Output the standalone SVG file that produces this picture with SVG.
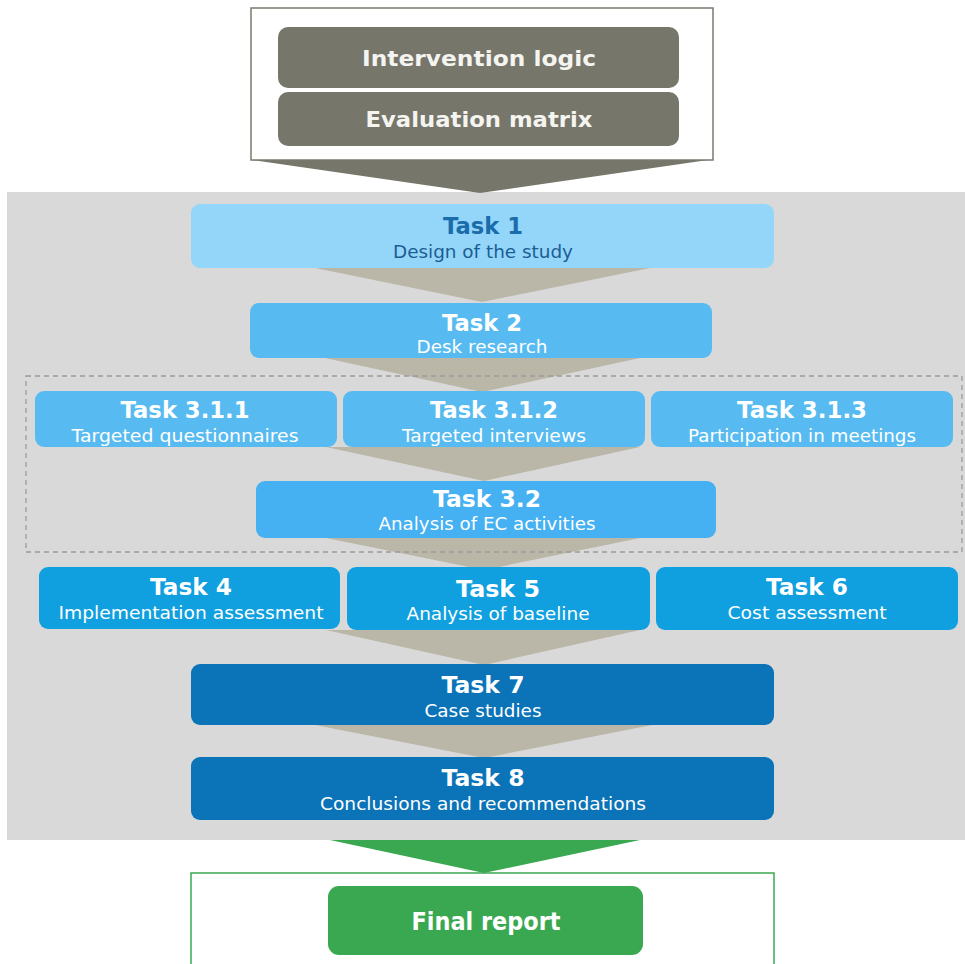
<svg xmlns="http://www.w3.org/2000/svg" width="965" height="964" viewBox="0 0 965 964">
<style>
.t{font-family:"DejaVu Sans","Liberation Sans",sans-serif;font-weight:bold;font-size:23px;text-anchor:middle;fill:#ffffff}
.s{font-family:"DejaVu Sans","Liberation Sans",sans-serif;font-size:18px;text-anchor:middle;fill:#ffffff}
.h{font-family:"DejaVu Sans","Liberation Sans",sans-serif;font-weight:bold;font-size:22px;text-anchor:middle;fill:#f4f4f0}
.arr{fill:#bab7a8}
.b1{fill:#57bbf1}
.b2{fill:#11a0df}
.b3{fill:#0b73b7}
</style>
<rect x="0" y="0" width="965" height="964" fill="#ffffff"/>
<rect x="7" y="192" width="958" height="648" fill="#d9d9d9"/>
<g id="connectors">
<polygon points="253,160 708,160 480,193" fill="#77766a"/>
<polygon points="315,268 650,268 482,302" class="arr"/>
<polygon points="325,358 640,358 482,392" class="arr"/>
<polygon points="326,447 640,447 484,481" class="arr"/>
<polygon points="326,538 640,538 484,570" class="arr"/>
<polygon points="326,630 640,630 484,665" class="arr"/>
<polygon points="315,725 652,725 484,758" class="arr"/>
<polygon points="330,840 640,840 484,873" fill="#3aa851"/>
</g>
<rect x="26" y="376" width="936" height="176" fill="none" stroke="#9a9a9a" stroke-width="1.3" stroke-dasharray="5,4"/>
<g id="inputs">
<rect x="251" y="8" width="462" height="152" fill="#ffffff" stroke="#7a7a70" stroke-width="1.5"/>
<g id="intervention-logic">
<rect x="278" y="27" width="401" height="61" rx="10" fill="#77766a"/>
<text class="h" x="479" y="66" textLength="234" lengthAdjust="spacingAndGlyphs">Intervention logic</text>
</g>
<g id="evaluation-matrix">
<rect x="278" y="92" width="401" height="54" rx="10" fill="#77766a"/>
<text class="h" x="479" y="127" textLength="227" lengthAdjust="spacingAndGlyphs">Evaluation matrix</text>
</g>
</g>
<g id="task1">
<rect x="191" y="204" width="583" height="64" rx="9" fill="#94d6fa"/>
<text class="t" x="483" y="234" style="fill:#1a6cab" textLength="80" lengthAdjust="spacingAndGlyphs">Task 1</text>
<text class="s" x="483" y="258" style="fill:#1c5d94" textLength="180" lengthAdjust="spacingAndGlyphs">Design of the study</text>
</g>
<g id="task2">
<rect x="250" y="303" width="462" height="55" rx="9" class="b1"/>
<text class="t" x="482" y="331" textLength="80" lengthAdjust="spacingAndGlyphs">Task 2</text>
<text class="s" x="482" y="353" textLength="131" lengthAdjust="spacingAndGlyphs">Desk research</text>
</g>
<g id="task311">
<rect x="35" y="391" width="302" height="56" rx="9" class="b1"/>
<text class="t" x="185" y="418" textLength="129" lengthAdjust="spacingAndGlyphs">Task 3.1.1</text>
<text class="s" x="185" y="442" textLength="227" lengthAdjust="spacingAndGlyphs">Targeted questionnaires</text>
</g>
<g id="task312">
<rect x="343" y="391" width="302" height="56" rx="9" class="b1"/>
<text class="t" x="494" y="418" textLength="128" lengthAdjust="spacingAndGlyphs">Task 3.1.2</text>
<text class="s" x="494" y="442" textLength="184" lengthAdjust="spacingAndGlyphs">Targeted interviews</text>
</g>
<g id="task313">
<rect x="651" y="391" width="302" height="56" rx="9" class="b1"/>
<text class="t" x="802" y="418" textLength="130" lengthAdjust="spacingAndGlyphs">Task 3.1.3</text>
<text class="s" x="802" y="442" textLength="228" lengthAdjust="spacingAndGlyphs">Participation in meetings</text>
</g>
<g id="task32">
<rect x="256" y="481" width="460" height="57" rx="9" fill="#45b0f2"/>
<text class="t" x="487" y="507" textLength="108" lengthAdjust="spacingAndGlyphs">Task 3.2</text>
<text class="s" x="487" y="530" textLength="217" lengthAdjust="spacingAndGlyphs">Analysis of EC activities</text>
</g>
<g id="task4">
<rect x="39" y="567" width="301" height="62" rx="9" class="b2"/>
<text class="t" x="191" y="595" textLength="82" lengthAdjust="spacingAndGlyphs">Task 4</text>
<text class="s" x="191" y="619" textLength="265" lengthAdjust="spacingAndGlyphs">Implementation assessment</text>
</g>
<g id="task5">
<rect x="347" y="567" width="303" height="63" rx="9" class="b2"/>
<text class="t" x="498" y="597" textLength="84" lengthAdjust="spacingAndGlyphs">Task 5</text>
<text class="s" x="498" y="620" textLength="183" lengthAdjust="spacingAndGlyphs">Analysis of baseline</text>
</g>
<g id="task6">
<rect x="656" y="567" width="302" height="63" rx="9" class="b2"/>
<text class="t" x="807" y="595" textLength="82" lengthAdjust="spacingAndGlyphs">Task 6</text>
<text class="s" x="807" y="619" textLength="159" lengthAdjust="spacingAndGlyphs">Cost assessment</text>
</g>
<g id="task7">
<rect x="191" y="664" width="583" height="61" rx="9" class="b3"/>
<text class="t" x="483" y="693" textLength="83" lengthAdjust="spacingAndGlyphs">Task 7</text>
<text class="s" x="483" y="717" textLength="117" lengthAdjust="spacingAndGlyphs">Case studies</text>
</g>
<g id="task8">
<rect x="191" y="757" width="583" height="63" rx="9" class="b3"/>
<text class="t" x="483" y="786" textLength="83" lengthAdjust="spacingAndGlyphs">Task 8</text>
<text class="s" x="483" y="810" textLength="326" lengthAdjust="spacingAndGlyphs">Conclusions and recommendations</text>
</g>
<g id="output">
<rect x="191" y="873" width="583" height="100" fill="#ffffff" stroke="#3aa851" stroke-width="1.5"/>
<g id="final-report">
<rect x="328" y="886" width="315" height="69" rx="11" fill="#3aa851"/>
<text class="t" x="486" y="930" style="font-size:25px" textLength="149" lengthAdjust="spacingAndGlyphs">Final report</text>
</g>
</g>
</svg>
